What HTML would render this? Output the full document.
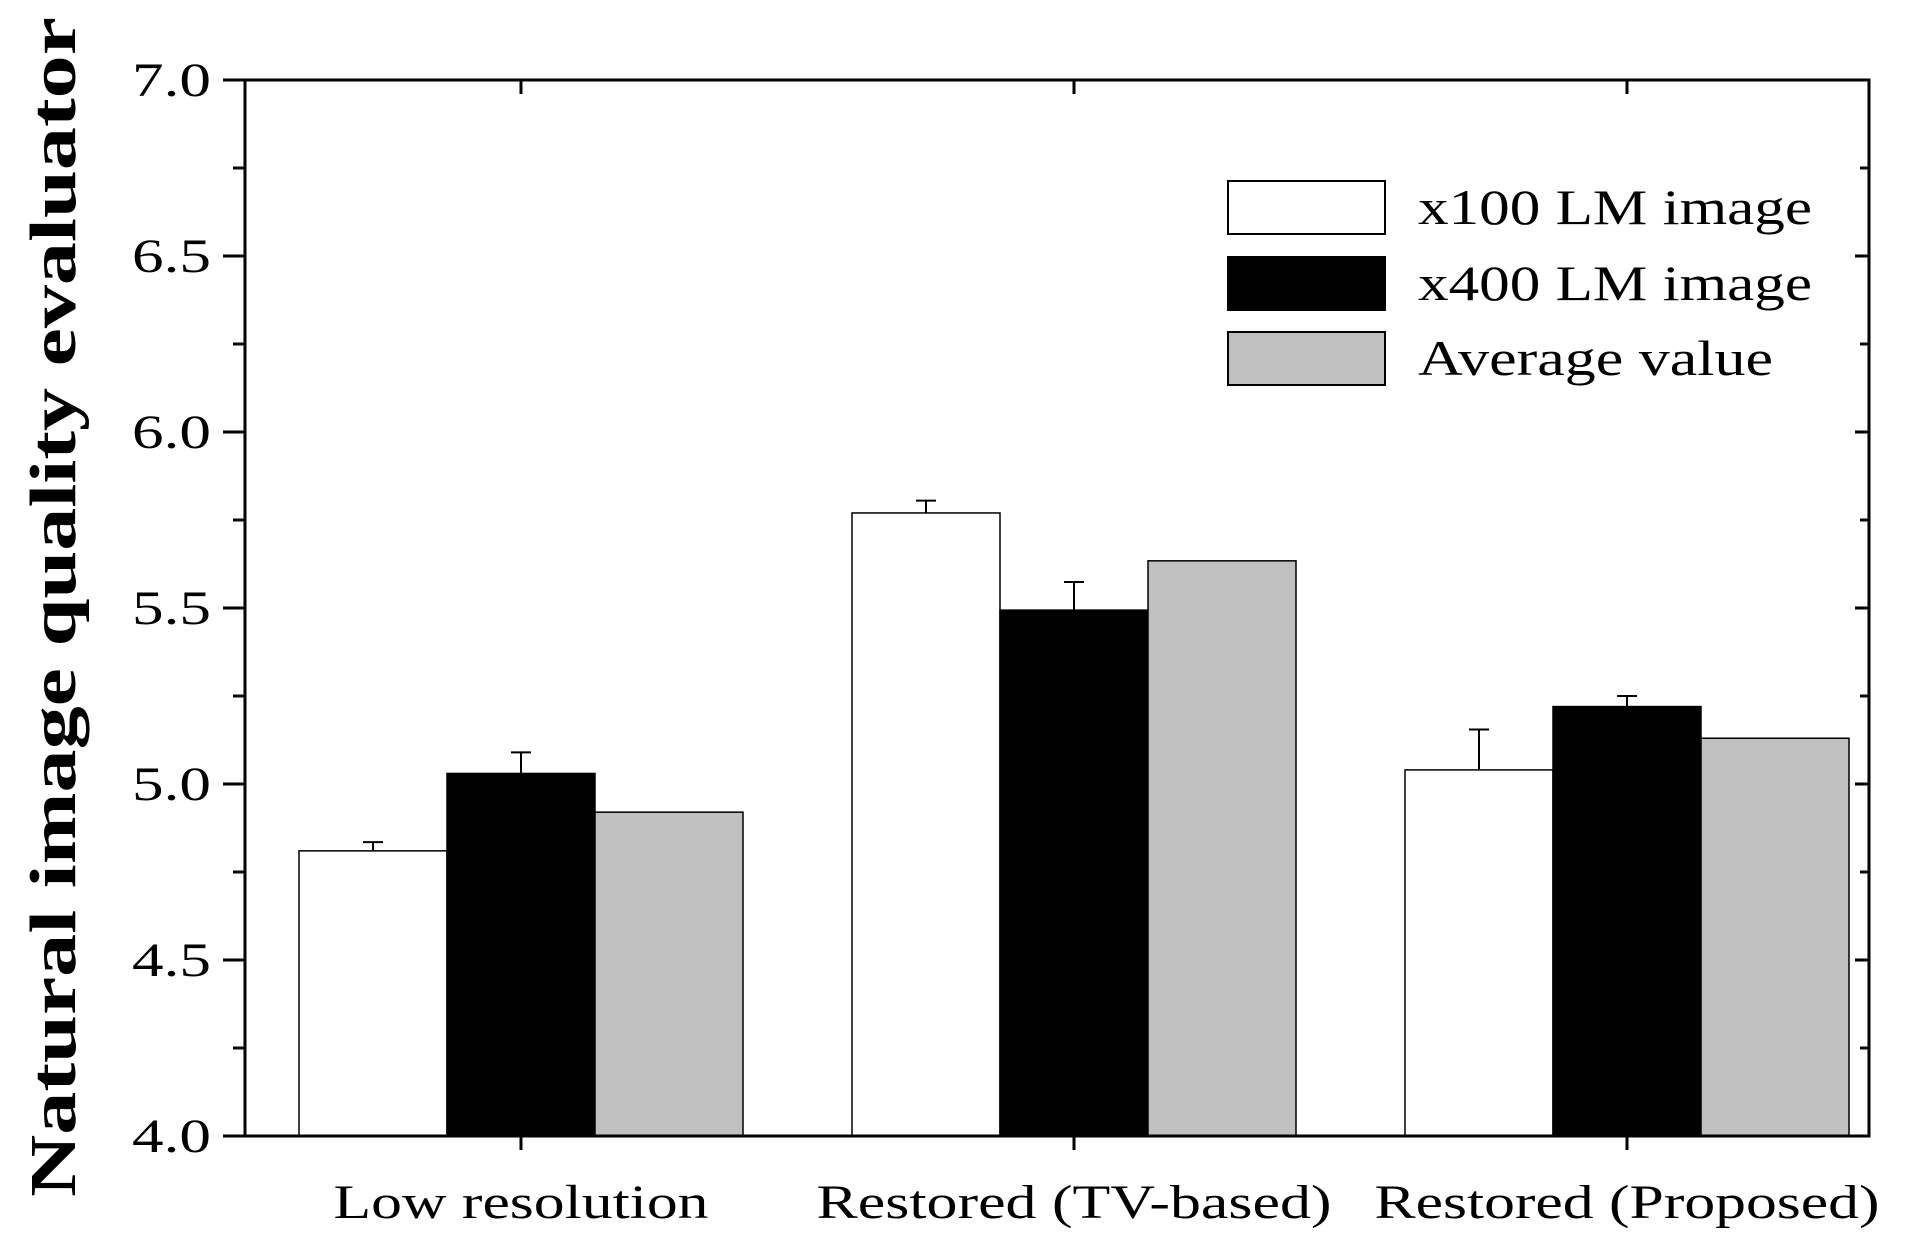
<!DOCTYPE html>
<html><head><meta charset="utf-8">
<style>html,body{margin:0;padding:0;background:#fff;}svg{display:block;}svg text{font-family:"Liberation Serif","Times New Roman",serif;}</style>
</head><body>
<svg id="chart" width="1922" height="1255" viewBox="0 0 1922 1255" xmlns="http://www.w3.org/2000/svg" font-family="Liberation Serif, serif">
<g id="bars"></g>
<g id="axes"></g>
<g id="legend"></g>
<text transform="translate(75,607) rotate(-90)" text-anchor="middle" font-weight="bold" font-size="66" textLength="1180" lengthAdjust="spacingAndGlyphs">Natural image quality evaluator</text>
</svg>
<script>
const categories = ["Low resolution", "Restored (TV-based)", "Restored (Proposed)"];
const seriesNames = ["x100 LM image", "x400 LM image", "Average value"];
const x100Values = [4.81, 5.77, 5.04];
const x400Values = [5.03, 5.494, 5.22];
const avgValues = [4.92, 5.634, 5.13];
const x100Errors = [0.025, 0.035, 0.115];
const x400Errors = [0.06, 0.08, 0.03];
const yTicks = [4.0, 4.5, 5.0, 5.5, 6.0, 6.5, 7.0];
const yTickLabels = ["4.0", "4.5", "5.0", "5.5", "6.0", "6.5", "7.0"];

const NS = "http://www.w3.org/2000/svg";
const L = 245, R = 1869, T = 80, B = 1136, yMin = 4, yMax = 7;
const yScale = v => B - (v - yMin) / (yMax - yMin) * (B - T);
const groupCenter = i => 521 + i * 553;
const barW = 148;
const colors = ["#fff", "#000", "#c0c0c0"];
const series = [x100Values, x400Values, avgValues];
const errs = [x100Errors, x400Errors, null];

function mk(tag, attrs, parent) {
  const e = document.createElementNS(NS, tag);
  for (const k in attrs) e.setAttribute(k, attrs[k]);
  parent.appendChild(e);
  return e;
}
const barsG = document.getElementById('bars');
const axesG = document.getElementById('axes');
const legG = document.getElementById('legend');

categories.forEach((c, i) => {
  series.forEach((s, j) => {
    const x = groupCenter(i) + (j - 1.5) * barW;
    const y = yScale(s[i]);
    const r = mk('rect', {x: x, y: y, width: barW, height: B - y, fill: colors[j], stroke: '#000', 'stroke-width': 1.5}, barsG);
    
    
    if (errs[j]) {
      const cx = x + barW / 2;
      const ye = yScale(s[i] + errs[j][i]);
      const g = mk('g', {stroke: '#000', 'stroke-width': 2}, barsG);
      
      
      mk('line', {x1: cx, y1: y, x2: cx, y2: ye}, g);
      mk('line', {x1: cx - 10, y1: ye, x2: cx + 10, y2: ye}, g);
    }
  });
  const t = mk('text', {x: groupCenter(i), y: 1218, 'text-anchor': 'middle', 'font-size': 48, textLength: [375, 515, 505][i], lengthAdjust: 'spacingAndGlyphs'}, axesG);
  t.textContent = c;
  
  
  mk('line', {x1: groupCenter(i), y1: B, x2: groupCenter(i), y2: B + 14, stroke: '#000', 'stroke-width': 3}, axesG);
  mk('line', {x1: groupCenter(i), y1: T, x2: groupCenter(i), y2: T + 14, stroke: '#000', 'stroke-width': 3}, axesG);
});

const frame = mk('rect', {x: L, y: T, width: R - L, height: B - T, fill: 'none', stroke: '#000', 'stroke-width': 3}, axesG);


mk('line', {x1: L - 22, y1: B, x2: L, y2: B, stroke: '#000', 'stroke-width': 3}, axesG);
mk('line', {x1: L - 22, y1: T, x2: L, y2: T, stroke: '#000', 'stroke-width': 3}, axesG);

yTicks.forEach((v, k) => {
  const y = yScale(v);
  mk('line', {x1: L, y1: y, x2: L - 22, y2: y, stroke: '#000', 'stroke-width': 3}, axesG);
  mk('line', {x1: R, y1: y, x2: R - 14, y2: y, stroke: '#000', 'stroke-width': 3}, axesG);
  if (k < yTicks.length - 1) {
    const ym = yScale(v + 0.25);
    mk('line', {x1: L, y1: ym, x2: L - 12, y2: ym, stroke: '#000', 'stroke-width': 3}, axesG);
    mk('line', {x1: R, y1: ym, x2: R - 9, y2: ym, stroke: '#000', 'stroke-width': 3}, axesG);
  }
  const t = mk('text', {x: 211, y: y + 16, 'text-anchor': 'end', 'font-size': 48, textLength: 79, lengthAdjust: 'spacingAndGlyphs'}, axesG);
  t.textContent = yTickLabels[k];
  
  
});

const legY = [181, 257, 332];
const legW = [394, 394, 355];
seriesNames.forEach((n, j) => {
  const r = mk('rect', {x: 1228, y: legY[j], width: 157, height: 53, fill: colors[j], stroke: '#000', 'stroke-width': 2}, legG);
  
  
  const t = mk('text', {x: 1418, y: legY[j] + 43, 'font-size': 50, textLength: legW[j], lengthAdjust: 'spacingAndGlyphs'}, legG);
  t.textContent = n;
  
  
});
</script>
</body></html>
